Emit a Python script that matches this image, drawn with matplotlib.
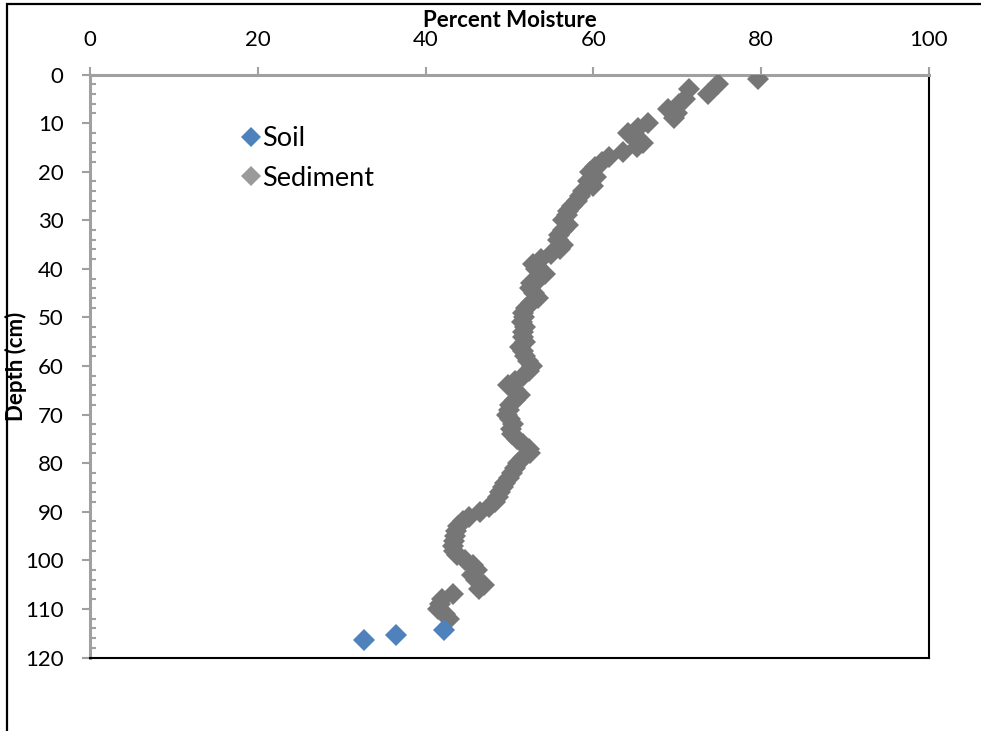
import matplotlib
matplotlib.use("Agg")
import matplotlib.pyplot as plt
from matplotlib.lines import Line2D
from matplotlib.patches import Rectangle
from matplotlib.ticker import MultipleLocator

plt.rcParams['font.family'] = ['Lato', 'DejaVu Sans']

# ---- data ----
soil_moisture = [42.2, 36.5, 32.7]
soil_depth = [114.3, 115.3, 116.5]

sediment_depth = list(range(1, 113))
sediment_moisture = [
    79.6, 74.9, 71.4, 73.7, 70.9, 70.2, 68.9, 70.0, 69.6, 66.5,
    65.3, 64.1, 64.8, 65.9, 65.2, 63.5, 61.8, 61.0, 60.2, 59.6,
    60.3, 59.4, 60.0, 58.8, 58.4, 58.0, 57.5, 57.0, 56.8, 56.4,
    57.0, 56.4, 55.9, 55.8, 56.4, 56.0, 55.0, 53.8, 52.8, 53.2,
    54.2, 53.5, 52.6, 52.4, 52.9, 53.4, 52.6, 52.0, 51.6, 51.7,
    51.5, 51.8, 51.6, 51.6, 51.9, 51.3, 51.6, 51.8, 52.2, 52.7,
    52.3, 51.6, 50.7, 49.8, 50.6, 51.3, 50.6, 50.1, 49.9, 49.7,
    50.1, 50.4, 50.2, 50.3, 50.9, 51.6, 52.3, 52.4, 51.6, 51.0,
    50.6, 50.3, 49.9, 49.5, 49.2, 48.9, 48.6, 48.3, 47.6, 46.5,
    45.2, 44.4, 43.9, 43.6, 43.5, 43.4, 43.3, 43.4, 43.7, 44.7,
    45.6, 46.1, 45.5, 46.0, 47.0, 46.4, 43.3, 42.0, 41.7, 41.5,
    42.3, 42.8,
]

x_ticks = [0, 20, 40, 60, 80, 100]
y_ticks = [0, 10, 20, 30, 40, 50, 60, 70, 80, 90, 100, 110, 120]

soil_color = '#4F81BD'
sed_color = '#767676'
axis_gray = '#A0A0A0'

W, H = 981, 731
fig = plt.figure(figsize=(W / 100, H / 100), dpi=100)
ax = fig.add_axes([90 / W, 1 - 657.5 / H, (929 - 90) / W, (657.5 - 74.5) / H])

ax.plot(sediment_moisture, sediment_depth, linestyle='none', marker='D',
        markersize=11, color=sed_color, markeredgewidth=0, zorder=3)
ax.plot(soil_moisture, soil_depth, linestyle='none', marker='D',
        markersize=11, color=soil_color, markeredgewidth=0, zorder=4)

ax.set_xlim(0, 100)
ax.set_ylim(120, 0)
ax.set_xticks(x_ticks)
ax.set_yticks(y_ticks)
ax.yaxis.set_minor_locator(MultipleLocator(2))
ax.xaxis.tick_top()
ax.xaxis.set_label_position('top')

ax.tick_params(axis='x', which='major', direction='out', length=6, width=1.5,
               color=axis_gray, labelsize=16, pad=12)
ax.tick_params(axis='y', which='major', direction='out', length=6, width=1.5,
               color=axis_gray, labelsize=16, pad=13)
ax.tick_params(axis='y', which='minor', direction='in', length=4.5, width=1.5,
               color=axis_gray)

for s in ['top', 'left']:
    ax.spines[s].set_color(axis_gray)
    ax.spines[s].set_linewidth(2.2)
for s in ['right', 'bottom']:
    ax.spines[s].set_color('black')
    ax.spines[s].set_linewidth(1.5)

ax.set_xlabel('Percent Moisture', fontsize=16, fontweight='bold')
ax.xaxis.set_label_coords(0.5, 1 + (74.5 - 27) / (657.5 - 74.5))
ax.set_ylabel('Depth (cm)', fontsize=16, fontweight='bold')
ax.yaxis.set_label_coords((27 - 90) / (929 - 90), 0.5)

handles = [
    Line2D([], [], linestyle='none', marker='D', markersize=10, color=soil_color, markeredgewidth=0),
    Line2D([], [], linestyle='none', marker='D', markersize=10, color='#9A9A9A', markeredgewidth=0),
]
leg = ax.legend(handles, ['Soil', 'Sediment'], loc='upper left',
                bbox_to_anchor=((244 - 90) / 839, 1 - (126 - 74.5) / 583),
                frameon=False, fontsize=19.5, handlelength=0.55, handletextpad=0.12,
                labelspacing=0.55, borderaxespad=0, borderpad=0)

fig.patches.append(Rectangle((7 / W, -0.1), 1.2, 1.1 - 4 / H, transform=fig.transFigure,
                             fill=False, edgecolor='black', linewidth=1.6, clip_on=False))

fig.savefig('out.png', dpi=100)
